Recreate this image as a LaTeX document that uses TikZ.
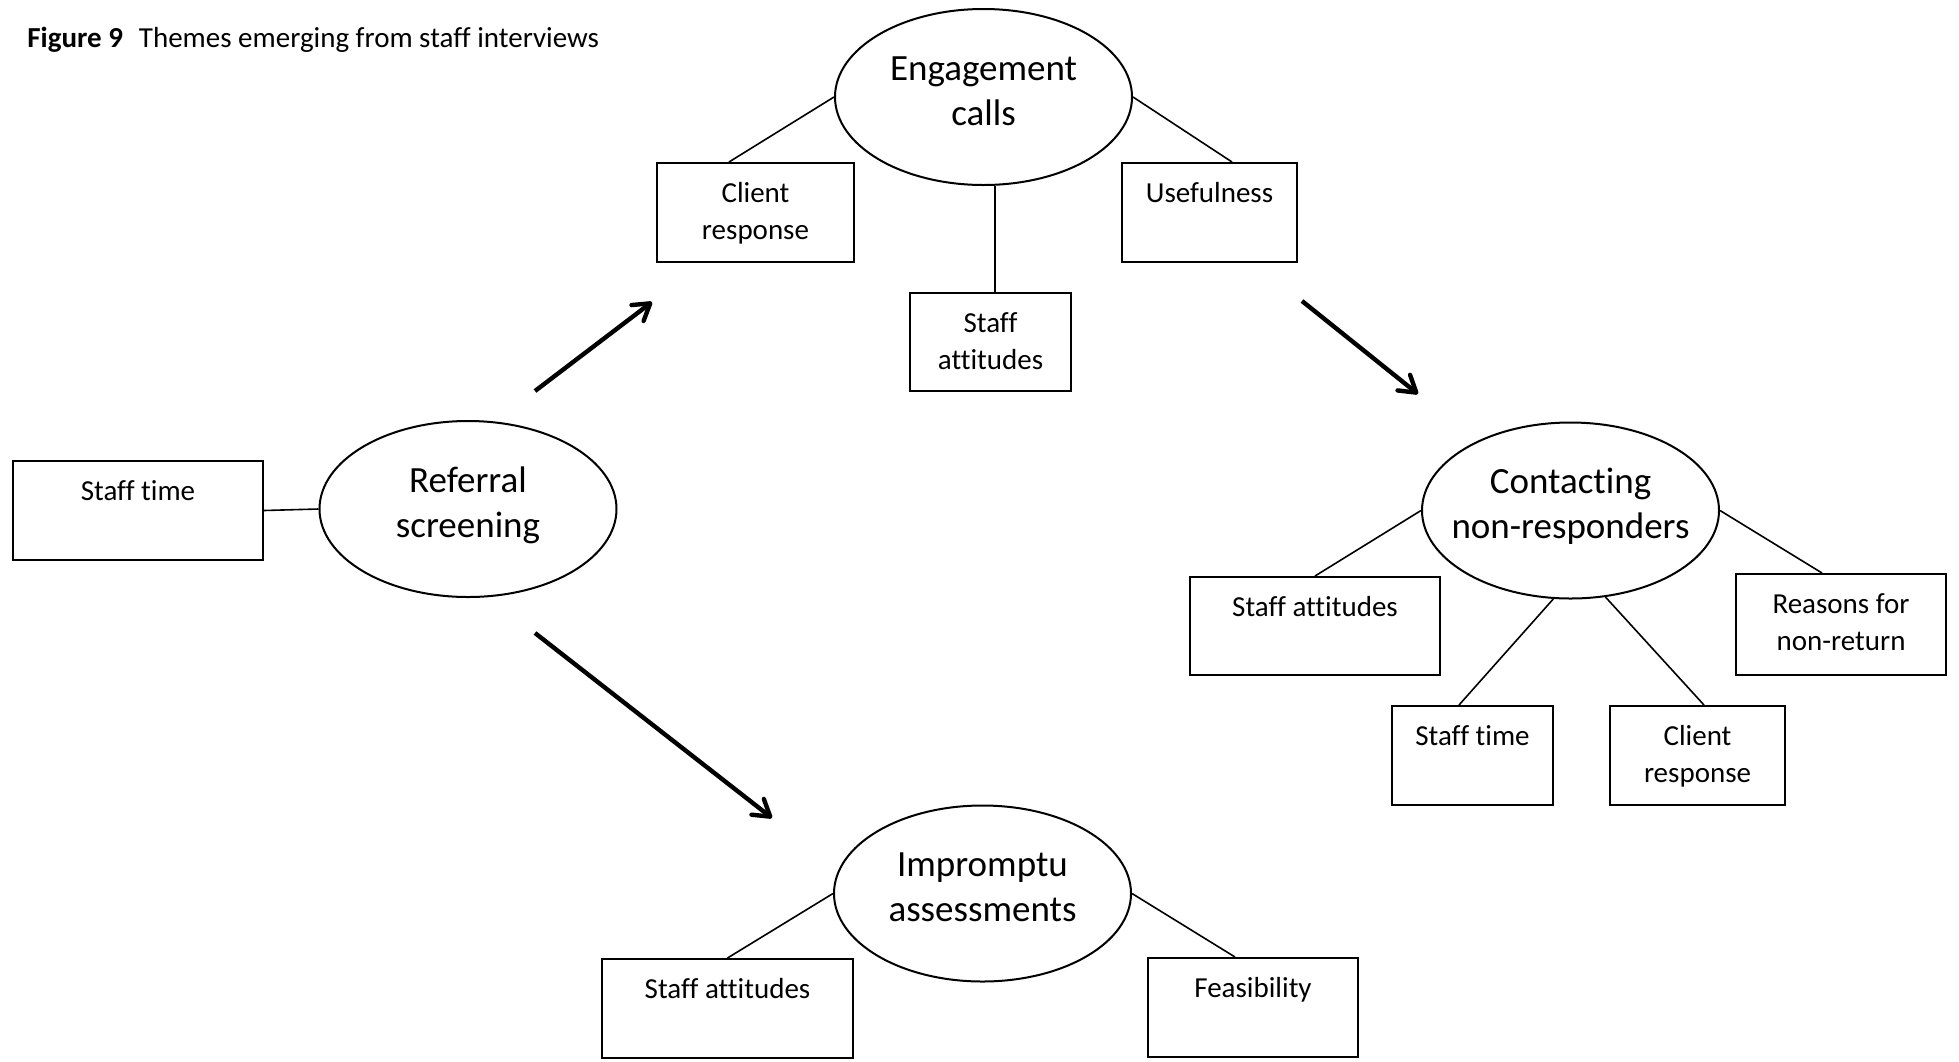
\documentclass[tikz,border=0pt]{standalone}
\usepackage{fontspec}
\setmainfont{Carlito}[Ligatures=NoCommon]
\usetikzlibrary{arrows.meta,shapes.geometric,calc}

\begin{document}
\begin{tikzpicture}[x=0.5pt,y=-0.5pt,
  themebox/.style 2 args={draw, rectangle, line width=1pt, inner sep=0pt,
    minimum width=#1, minimum height=#2},
  theme/.style={draw, ellipse, line width=1pt, inner sep=0pt,
    minimum width=148.5pt, minimum height=88pt},
  boxtext/.style={anchor=north, align=center, inner sep=0pt,
    font=\fontsize{14.5}{18.5}\selectfont},
  themetext/.style={anchor=north, align=center, inner sep=0pt,
    font=\fontsize{18.5}{22.5}\selectfont},
  link/.style={line width=0.8pt},
  flow/.style={line width=2.2pt, -{Straight Barb[length=8pt,width=10pt,round]}}
]
\useasboundingbox (0,0) rectangle (1959,1061);

% caption
\node[anchor=base west, inner sep=0pt, font=\fontsize{14.5}{17}\selectfont]
  (caption) at (27,47) {\textbf{Figure 9}\hspace{0.55em}Themes emerging from staff interviews};

% main themes
\node[theme] (ec) at (983.5,97) {};
\node[theme] (rs) at (468,509) {};
\node[theme] (cn) at (1570.5,510.5) {};
\node[theme] (ia) at (982.5,893.5) {};

\node[themetext] (ec-t) at ([yshift=24.25pt]ec.center) {\strut Engagement\\calls};
\node[themetext] (rs-t) at ([yshift=24.25pt]rs.center) {\strut Referral\\screening};
\node[themetext] (cn-t) at ([yshift=24.25pt]cn.center) {\strut Contacting\\non-responders};
\node[themetext] (ia-t) at ([yshift=24.25pt]ia.center) {\strut Impromptu\\assessments};

% sub-themes
\node[themebox={98.5pt}{49.5pt}] (cr1) at (755.5,212.5) {};
\node[themebox={87.5pt}{49.5pt}] (uf) at (1209.5,212.5) {};
\node[themebox={80.5pt}{49pt}] (sa1) at (990.5,342) {};
\node[themebox={125pt}{49.5pt}] (st1) at (138,510.5) {};
\node[themebox={125pt}{49pt}] (sa2) at (1315,626) {};
\node[themebox={105pt}{50.5pt}] (rn) at (1841,624.5) {};
\node[themebox={80.5pt}{49.5pt}] (st2) at (1472.5,755.5) {};
\node[themebox={87.5pt}{49.5pt}] (cr2) at (1697.5,755.5) {};
\node[themebox={125.5pt}{49.5pt}] (sa3) at (727.5,1008.5) {};
\node[themebox={105pt}{49.5pt}] (fe) at (1253,1007.5) {};

\node[boxtext] (cr1-t) at ([yshift=-7pt]cr1.north) {\strut Client\\response};
\node[boxtext] (uf-t) at ([yshift=-7pt]uf.north) {\strut Usefulness};
\node[boxtext] (sa1-t) at ([yshift=-7pt]sa1.north) {\strut Staff\\attitudes};
\node[boxtext] (st1-t) at ([yshift=-7pt]st1.north) {\strut Staff time};
\node[boxtext] (sa2-t) at ([yshift=-7pt]sa2.north) {\strut Staff attitudes};
\node[boxtext] (rn-t) at ([yshift=-7pt]rn.north) {\strut Reasons for\\non-return};
\node[boxtext] (st2-t) at ([yshift=-7pt]st2.north) {\strut Staff time};
\node[boxtext] (cr2-t) at ([yshift=-7pt]cr2.north) {\strut Client\\response};
\node[boxtext] (sa3-t) at ([yshift=-7pt]sa3.north) {\strut Staff attitudes};
\node[boxtext] (fe-t) at ([yshift=-7pt]fe.north) {\strut Feasibility};

% theme to sub-theme links
\draw[link] (ec.west) -- ([xshift=-13.25pt]cr1.north);
\draw[link] (ec.east) -- ([xshift=11.25pt]uf.north);
\draw[link] ([xshift=5.75pt]ec.south) -- ([xshift=2.25pt]sa1.north);
\draw[link] (st1.east) -- (rs.west);
\draw[link] (cn.west) -- (sa2.north);
\draw[link] (cn.east) -- ([xshift=-9.5pt]rn.north);
\draw[link] (cn.-101.4) -- ([xshift=-6.75pt]st2.north);
\draw[link] (cn.-68.5) -- ([xshift=3.25pt]cr2.north);
\draw[link] (ia.west) -- (sa3.north);
\draw[link] (ia.east) -- ([xshift=-9pt]fe.north);

% process flow
\coordinate (a1s) at (535,391);
\coordinate (a1e) at (652,302);
\coordinate (a2s) at (1302,301);
\coordinate (a2e) at (1418,394);
\coordinate (a3s) at (535,633);
\coordinate (a3e) at (772,818);
\draw[flow] (a1s) -- (a1e);
\draw[flow] (a2s) -- (a2e);
\draw[flow] (a3s) -- (a3e);
\end{tikzpicture}
\end{document}
